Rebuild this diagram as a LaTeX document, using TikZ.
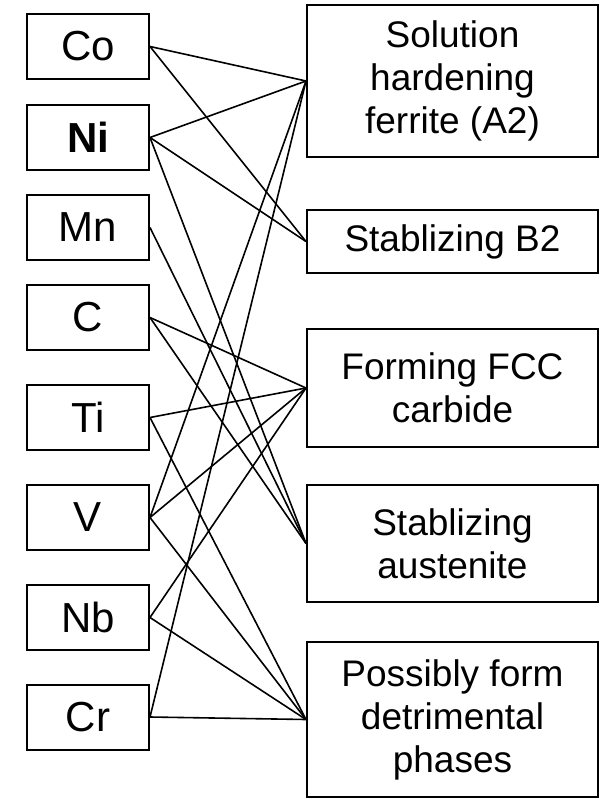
\documentclass[tikz,border=0pt]{standalone}
\usepackage{fontspec}
\setmainfont{Liberation Sans}
\begin{document}
\begin{tikzpicture}[x=1pt,y=-1pt,
  elem/.style={draw, line width=2pt, minimum width=122pt, minimum height=65pt,
    inner sep=0pt, font=\fontsize{42}{48}\selectfont},
  role/.style={draw, line width=2pt, minimum width=291pt, inner sep=0pt,
    align=center, font=\fontsize{37}{43}\selectfont},
  link/.style={line width=1.6pt}]
\useasboundingbox (0,0) rectangle (600,799);

% alloying elements
\node[elem] (co) at (88,46.5) {Co};
\node[elem] (ni) at (88,137.5) {\bfseries Ni};
\node[elem] (mn) at (88,227.5) {Mn};
\node[elem] (c)  at (88,317.5) {C};
\node[elem] (ti) at (88,417.5) {Ti};
\node[elem] (v)  at (88,517.5) {V};
\node[elem] (nb) at (88,617.5) {Nb};
\node[elem] (cr) at (88,717) {Cr};

% effects
\node[role, minimum height=152pt] (sol) at (452.5,81) {Solution\\hardening\\ferrite (A2)};
\node[role, minimum height=63pt]  (b2)  at (452.5,241.5) {Stablizing B2};
\node[role, minimum height=118pt] (fcc) at (452.5,388) {Forming FCC\\carbide};
\node[role, minimum height=117pt] (aus) at (452.5,543.5) {Stablizing\\austenite};
\node[role, minimum height=155pt] (det) at (452.5,719.5) {Possibly form\\detrimental\\phases};

% element-to-effect links
\draw[link] (co.east) -- (sol.west);
\draw[link] (co.east) -- (b2.west);
\draw[link] (ni.east) -- (sol.west);
\draw[link] (ni.east) -- (b2.west);
\draw[link] (ni.east) -- (aus.west);
\draw[link] (mn.east) -- (aus.west);
\draw[link] (c.east)  -- (fcc.west);
\draw[link] (c.east)  -- (aus.west);
\draw[link] (ti.east) -- (fcc.west);
\draw[link] (ti.east) -- (det.west);
\draw[link] (v.east)  -- (sol.west);
\draw[link] (v.east)  -- (fcc.west);
\draw[link] (v.east)  -- (det.west);
\draw[link] (nb.east) -- (fcc.west);
\draw[link] (nb.east) -- (det.west);
\draw[link] (cr.east) -- (sol.west);
\draw[link] (cr.east) -- (det.west);
\end{tikzpicture}
\end{document}
